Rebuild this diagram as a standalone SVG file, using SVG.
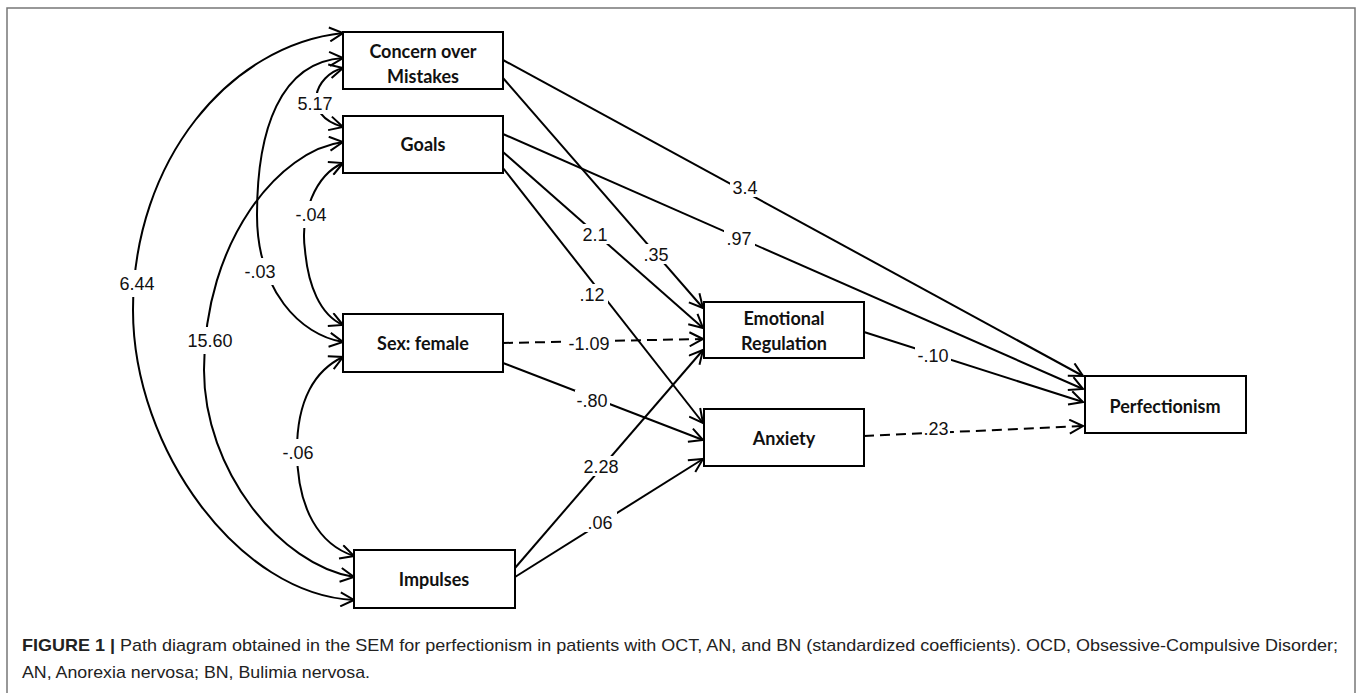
<svg xmlns="http://www.w3.org/2000/svg" width="1358" height="693" viewBox="0 0 1358 693">
<style>
.box{fill:#fff;stroke:#000;stroke-width:2}
.nt{font-family:Lato,"Open Sans","DejaVu Sans",sans-serif;font-weight:bold;font-size:18px;fill:#111;text-anchor:middle}
.ln{fill:none;stroke:#000;stroke-width:2}
.dash{stroke-dasharray:10,6}
.lb{font-family:"Liberation Sans",Arial,sans-serif;font-size:18px;fill:#111;text-anchor:middle}
.bg{fill:#fff}
.cap{font-family:"Liberation Sans",Arial,sans-serif;font-size:17px;fill:#222}
</style>
<defs>
<marker id="ah" markerUnits="userSpaceOnUse" viewBox="0 0 16 16" markerWidth="16" markerHeight="16" refX="14.5" refY="8" orient="auto-start-reverse">
<path d="M1,1 L14.5,8 L1,15" fill="none" stroke="#000" stroke-width="2"/>
</marker>
</defs>
<rect x="0" y="0" width="1358" height="693" fill="#fff"/>
<rect x="7" y="8" width="1348" height="700" fill="none" stroke="#777" stroke-width="1.5"/>

<g id="connectors">
<!-- covariances -->
<path class="ln" marker-start="url(#ah)" marker-end="url(#ah)" d="M343,33 C230,45 133,160 133,310 C133,450 240,595 354,600"/>
<path class="ln" marker-start="url(#ah)" marker-end="url(#ah)" d="M343,142 C280,150 204,240 204,370 C204,470 280,565 354,577"/>
<path class="ln" marker-start="url(#ah)" marker-end="url(#ah)" d="M343,58 C280,62 257,130 257,215 C257,290 300,335 343,342"/>
<path class="ln" marker-start="url(#ah)" marker-end="url(#ah)" d="M343,68 C315,75 300,115 343,127"/>
<path class="ln" marker-start="url(#ah)" marker-end="url(#ah)" d="M343,163 C315,175 300,215 305,250 C308,285 320,315 343,325"/>
<path class="ln" marker-start="url(#ah)" marker-end="url(#ah)" d="M343,357 C315,370 297,400 297,450 C297,510 320,545 354,556"/>
<!-- regressions -->
<path class="ln" marker-end="url(#ah)" d="M503,60 L1083,376"/>
<path class="ln" marker-end="url(#ah)" d="M503,78 L703,308"/>
<path class="ln" marker-end="url(#ah)" d="M503,134 L1083,389"/>
<path class="ln" marker-end="url(#ah)" d="M503,152 L703,328"/>
<path class="ln" marker-end="url(#ah)" d="M503,168 L703,423"/>
<path class="ln dash" marker-end="url(#ah)" d="M503,343 L703,339"/>
<path class="ln" marker-end="url(#ah)" d="M503,363 L703,440"/>
<path class="ln" marker-end="url(#ah)" d="M515,568 L703,350"/>
<path class="ln" marker-end="url(#ah)" d="M515,577 L703,459"/>
<path class="ln" marker-end="url(#ah)" d="M864,332 L1083,402"/>
<path class="ln dash" marker-end="url(#ah)" d="M864,436 L1083,426"/>
<!-- labels -->
<rect class="bg" x="119" y="270" width="37" height="27"/><text class="lb" x="137" y="289.5">6.44</text>
<rect class="bg" x="187" y="327" width="47" height="27"/><text class="lb" x="210" y="346.5">15.60</text>
<rect class="bg" x="243" y="258" width="34" height="27"/><text class="lb" x="260" y="277.5">-.03</text>
<rect class="bg" x="297" y="93" width="37" height="21"/><text class="lb" x="315" y="109.5">5.17</text>
<rect class="bg" x="294" y="201" width="34" height="27"/><text class="lb" x="311" y="220.5">-.04</text>
<rect class="bg" x="281" y="439" width="34" height="27"/><text class="lb" x="298" y="458.5">-.06</text>
<rect class="bg" x="730" y="177" width="31" height="20"/><text class="lb" x="745" y="193.5">3.4</text>
<rect class="bg" x="724" y="228" width="31" height="20"/><text class="lb" x="739" y="244.5">.97</text>
<rect class="bg" x="580" y="224" width="31" height="20"/><text class="lb" x="595" y="240.5">2.1</text>
<rect class="bg" x="641" y="244" width="31" height="20"/><text class="lb" x="656" y="260.5">.35</text>
<rect class="bg" x="577" y="284" width="31" height="20"/><text class="lb" x="592" y="300.5">.12</text>
<rect class="bg" x="567" y="334" width="44" height="18"/><text class="lb" x="589" y="349.5">-1.09</text>
<rect class="bg" x="575" y="390" width="35" height="20"/><text class="lb" x="592" y="406.5">-.80</text>
<rect class="bg" x="582" y="456" width="38" height="20"/><text class="lb" x="601" y="472.5">2.28</text>
<rect class="bg" x="583" y="512" width="34" height="20"/><text class="lb" x="600" y="528.5">.06</text>
<rect class="bg" x="915" y="345" width="36" height="20"/><text class="lb" x="933" y="361.5">-.10</text>
<rect class="bg" x="923" y="419" width="27" height="18"/><text class="lb" x="936" y="434.5">.23</text>
</g>

<g id="node-concern"><rect class="box" x="343" y="32" width="160" height="57"/><text class="nt" x="423" y="57.5">Concern over</text><text class="nt" x="423" y="83">Mistakes</text></g>
<g id="node-goals"><rect class="box" x="343" y="116" width="160" height="57"/><text class="nt" x="423" y="150.5">Goals</text></g>
<g id="node-sex"><rect class="box" x="343" y="314" width="160" height="58"/><text class="nt" x="423" y="349.5">Sex: female</text></g>
<g id="node-impulses"><rect class="box" x="354" y="550" width="161" height="58"/><text class="nt" x="434" y="585.5">Impulses</text></g>
<g id="node-emotional"><rect class="box" x="704" y="302" width="160" height="56"/><text class="nt" x="784" y="324.5">Emotional</text><text class="nt" x="784" y="349.5">Regulation</text></g>
<g id="node-anxiety"><rect class="box" x="704" y="409" width="160" height="57"/><text class="nt" x="784" y="444.5">Anxiety</text></g>
<g id="node-perfectionism"><rect class="box" x="1085" y="376" width="161" height="57"/><text class="nt" x="1165" y="412.5">Perfectionism</text></g>

<g id="caption">
<text class="cap" x="22" y="651" textLength="1316" lengthAdjust="spacingAndGlyphs"><tspan font-weight="bold">FIGURE 1 |</tspan> Path diagram obtained in the SEM for perfectionism in patients with OCT, AN, and BN (standardized coefficients). OCD, Obsessive-Compulsive Disorder;</text>
<text class="cap" x="22" y="678" textLength="348" lengthAdjust="spacingAndGlyphs">AN, Anorexia nervosa; BN, Bulimia nervosa.</text>
</g>
</svg>
